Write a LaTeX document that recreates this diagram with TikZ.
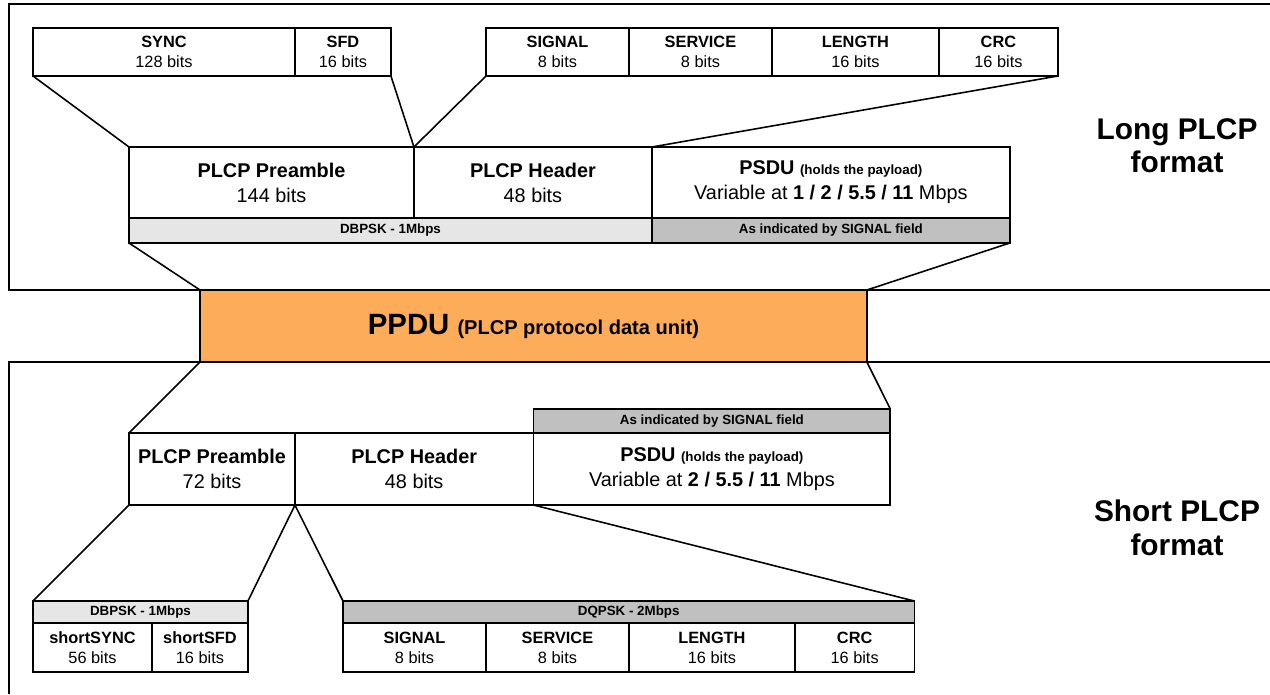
\documentclass[tikz,border=0pt]{standalone}
\usepackage{fontspec}
\setmainfont{Liberation Sans}
\usetikzlibrary{positioning}
\definecolor{barlight}{RGB}{230,230,230}
\definecolor{bardark}{RGB}{192,192,192}
\definecolor{ppduorange}{RGB}{253,172,90}
\tikzset{
    field/.style = {draw, rectangle, line width=1pt,
        inner sep=0pt, outer sep=0pt,
        minimum height=0.96cm, align=center,
        font=\fontsize{9.3}{11.3}\selectfont},
    part/.style = {field, minimum height=1.42cm,
        font=\fontsize{11.3}{14.2}\selectfont},
    rate/.style = {field, fill=barlight, minimum height=0.5cm,
        font=\bfseries\fontsize{7.6}{9}\selectfont},
    ratedark/.style = {rate, fill=bardark},
    unit/.style = {field, fill=ppduorange, minimum width=13.34cm, minimum height=1.44cm},
    frame/.style = {draw, line width=0.6pt},
    link/.style = {draw, line width=0.9pt},
    format/.style = {align=center, font=\bfseries\fontsize{17}{19}\selectfont}
}
\newcommand{\fld}[2]{\textbf{#1}\\#2}
\newcommand{\notesize}{\bfseries\fontsize{7.6}{9}\selectfont}

\begin{document}
\begin{tikzpicture}[x=0.02cm, y=-0.02cm, node distance=0pt]
    \useasboundingbox (0,0) rectangle (1270,694);
    \draw [frame] (1270,4) -- (9,4) -- (9,290) -- (1270,290);
    \draw [frame] (1270,362) -- (9,362) -- (9,694);

    \node [field, anchor=north west, minimum width=5.24cm] (sync) at (33,28) {\fld{SYNC}{128 bits}};
    \node [field, right=of sync, minimum width=1.92cm] (sfd) {\fld{SFD}{16 bits}};
    \node [field, anchor=north west, minimum width=2.86cm] (lsignal) at (486,28) {\fld{SIGNAL}{8 bits}};
    \node [field, right=of lsignal, minimum width=2.86cm] (lservice) {\fld{SERVICE}{8 bits}};
    \node [field, right=of lservice, minimum width=3.34cm] (llength) {\fld{LENGTH}{16 bits}};
    \node [field, right=of llength, minimum width=2.38cm] (lcrc) {\fld{CRC}{16 bits}};

    \node [part, anchor=north west, minimum width=5.7cm] (lpre) at (129,147) {\fld{PLCP Preamble}{144 bits}};
    \node [part, right=of lpre, minimum width=4.76cm] (lhdr) {\fld{PLCP Header}{48 bits}};
    \node [part, right=of lhdr, minimum width=7.16cm] (lpsdu) {\textbf{PSDU} {\notesize (holds the payload)}\\Variable at \textbf{1 / 2 / 5.5 / 11} Mbps};
    \node [rate, anchor=north west, minimum width=10.46cm] (ldbpsk) at (lpre.south west) {DBPSK - 1Mbps};
    \node [ratedark, right=of ldbpsk, minimum width=7.16cm] (lrate) {As indicated by SIGNAL field};

    \node [unit, anchor=north west] (ppdu) at (200,290) {\fontsize{16.7}{20}\selectfont\textbf{PPDU} {\bfseries\fontsize{11.4}{14}\selectfont (PLCP protocol data unit)}};

    \node [part, anchor=north west, minimum width=3.32cm, minimum height=1.44cm] (spre) at (129,433) {\fld{PLCP Preamble}{72 bits}};
    \node [part, right=of spre, minimum width=4.77cm, minimum height=1.44cm] (shdr) {\fld{PLCP Header}{48 bits}};
    \node [part, right=of shdr, minimum width=7.14cm, minimum height=1.44cm] (spsdu) {\textbf{PSDU} {\notesize (holds the payload)}\\Variable at \textbf{2 / 5.5 / 11} Mbps};
    \node [ratedark, anchor=south west, minimum width=7.14cm, minimum height=0.48cm] (srate) at (spsdu.north west) {As indicated by SIGNAL field};

    \node [rate, anchor=north west, minimum width=4.3cm, minimum height=0.44cm] (sdbpsk) at (33,601) {DBPSK - 1Mbps};
    \node [field, anchor=north west, minimum width=2.38cm, minimum height=0.98cm] (ssync) at (sdbpsk.south west) {\fld{shortSYNC}{56 bits}};
    \node [field, right=of ssync, minimum width=1.92cm, minimum height=0.98cm] (ssfd) {\fld{shortSFD}{16 bits}};
    \node [ratedark, anchor=north west, minimum width=11.43cm, minimum height=0.44cm] (sdqpsk) at (343,601) {DQPSK - 2Mbps};
    \node [field, anchor=north west, minimum width=2.86cm, minimum height=0.98cm] (ssignal) at (sdqpsk.south west) {\fld{SIGNAL}{8 bits}};
    \node [field, right=of ssignal, minimum width=2.86cm, minimum height=0.98cm] (sservice) {\fld{SERVICE}{8 bits}};
    \node [field, right=of sservice, minimum width=3.32cm, minimum height=0.98cm] (slength) {\fld{LENGTH}{16 bits}};
    \node [field, right=of slength, minimum width=2.39cm, minimum height=0.98cm] (scrc) {\fld{CRC}{16 bits}};

    \draw [link] (sync.south west) -- (lpre.north west);
    \draw [link] (sfd.south east) -- (lpre.north east);
    \draw [link] (lsignal.south west) -- (lhdr.north west);
    \draw [link] (lcrc.south east) -- (lpsdu.north west);
    \draw [link] (ldbpsk.south west) -- (ppdu.north west);
    \draw [link] (lrate.south east) -- (ppdu.north east);
    \draw [link] (ppdu.south west) -- (spre.north west);
    \draw [link] (ppdu.south east) -- (srate.north east);
    \draw [link] (spre.south west) -- (sdbpsk.north west);
    \draw [link] (spre.south east) -- (sdbpsk.north east);
    \draw [link] (shdr.south west) -- (sdqpsk.north west);
    \draw [link] (spsdu.south west) -- (sdqpsk.north east);

    \node [format] (longfmt) at (1177,146) {Long PLCP\\format};
    \node [format] (shortfmt) at (1177,528) {Short PLCP\\format};
\end{tikzpicture}
\end{document}
